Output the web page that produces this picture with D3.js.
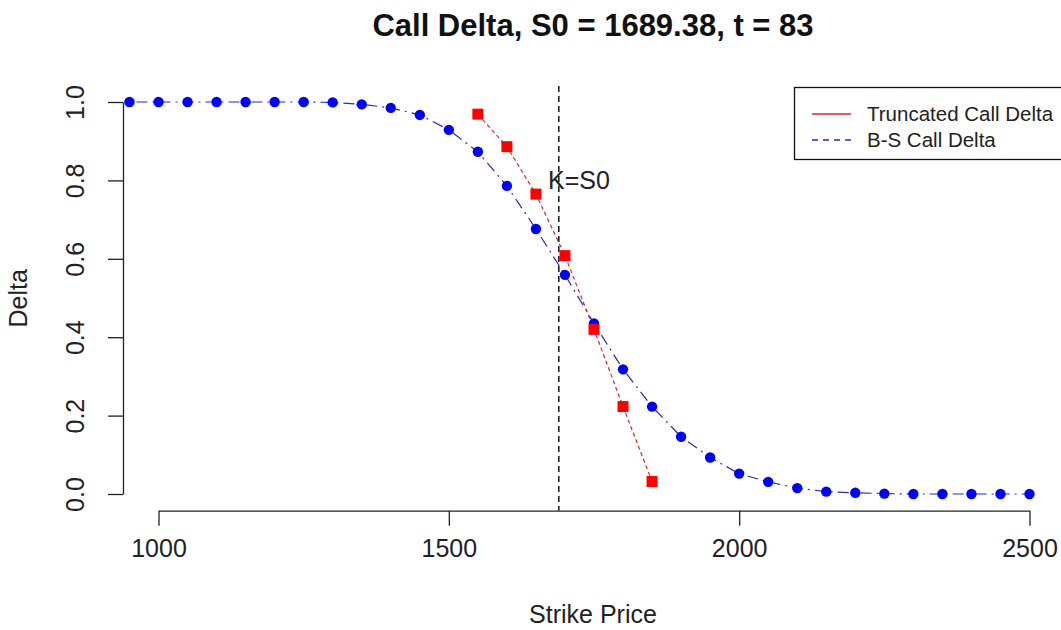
<!DOCTYPE html>
<html>
<head>
<meta charset="utf-8">
<script src="https://cdn.jsdelivr.net/npm/d3@7"></script>
<style>
  body { margin: 0; background: #fff; }
  svg { display: block; font-family: "Liberation Sans", Arial, sans-serif; }
</style>
</head>
<body>
<svg id="chart" width="1061" height="630"></svg>
<script>
// B-S call delta
const bsStrikes = [950, 1000, 1050, 1100, 1150, 1200, 1250, 1300, 1350, 1400,
  1450, 1500, 1550, 1600, 1650, 1700, 1750, 1800, 1850, 1900, 1950, 2000,
  2050, 2100, 2150, 2200, 2250, 2300, 2350, 2400, 2450, 2500];
const bsDelta = [1.0, 1.0, 1.0, 1.0, 1.0, 1.0, 1.0, 0.999, 0.994, 0.985,
  0.967, 0.929, 0.873, 0.786, 0.676, 0.559, 0.435, 0.318, 0.223, 0.146, 0.093, 0.052,
  0.031, 0.015, 0.006, 0.003, 0.001, 0.0, 0.0, 0.0, 0.0, 0.0];

// truncated call delta
const truncStrikes = [1550, 1600, 1650, 1700, 1750, 1800, 1850];
const truncDelta = [0.969, 0.886, 0.765, 0.608, 0.420, 0.223, 0.032];

const S0 = 1689.38;
const xTicks = [1000, 1500, 2000, 2500];
const yTicks = [0.0, 0.2, 0.4, 0.6, 0.8, 1.0];
const legendItems = [
  { label: "Truncated Call Delta", color: "#d42a2a", dash: null },
  { label: "B-S Call Delta", color: "#2a2ab8", dash: "6,5" },
];

const svg = d3.select("#chart");

const plot = { left: 123, right: 1063, top: 86, bottom: 510.7 };

const x = d3.scaleLinear().domain([1000, 2500]).range([158.5, 1029.5]);
const y = d3.scaleLinear().domain([0, 1]).range([494, 102]);

const bs = bsStrikes.map((k, i) => ({ k, d: bsDelta[i] }));
const tr = truncStrikes.map((k, i) => ({ k, d: truncDelta[i] }));

// title
svg.append("text")
  .attr("x", (plot.left + plot.right) / 2)
  .attr("y", 36)
  .attr("text-anchor", "middle")
  .attr("font-size", 31)
  .attr("font-weight", "bold")
  .attr("fill", "#111")
  .text(`Call Delta, S0 = ${S0}, t = 83`);

// axes
const xAxis = svg.append("g")
  .attr("transform", `translate(0,${plot.bottom})`)
  .call(d3.axisBottom(x).tickValues(xTicks).tickSize(15).tickSizeOuter(0).tickFormat(d3.format("d")));
xAxis.selectAll("text")
  .attr("y", 46)
  .attr("dy", null)
  .attr("font-size", 25)
  .attr("font-family", "Liberation Sans, Arial, sans-serif")
  .attr("fill", "#222");

const yAxis = svg.append("g")
  .attr("transform", `translate(${plot.left},0)`)
  .call(d3.axisLeft(y).tickValues(yTicks).tickSize(15).tickSizeOuter(0).tickFormat(d3.format(".1f")));
yAxis.selectAll("text")
  .attr("x", null)
  .attr("dy", "0.35em")
  .attr("text-anchor", "middle")
  .attr("transform", "translate(-48,0) rotate(-90)")
  .attr("font-size", 25)
  .attr("font-family", "Liberation Sans, Arial, sans-serif")
  .attr("fill", "#222");

svg.selectAll(".domain, .tick line").attr("stroke", "#222").attr("stroke-width", 1.3);

// axis titles
svg.append("text")
  .attr("x", (plot.left + plot.right) / 2)
  .attr("y", 623)
  .attr("text-anchor", "middle")
  .attr("font-size", 25)
  .attr("fill", "#222")
  .text("Strike Price");

svg.append("text")
  .attr("transform", `translate(27,${(plot.top + plot.bottom) / 2}) rotate(-90)`)
  .attr("text-anchor", "middle")
  .attr("font-size", 25)
  .attr("fill", "#222")
  .text("Delta");

// K = S0 line
svg.append("line")
  .attr("x1", x(S0)).attr("x2", x(S0))
  .attr("y1", plot.top).attr("y2", plot.bottom)
  .attr("stroke", "#222")
  .attr("stroke-width", 1.6)
  .attr("stroke-dasharray", "6,4");

svg.append("text")
  .attr("x", x(1724))
  .attr("y", y(0.8))
  .attr("dy", "0.35em")
  .attr("text-anchor", "middle")
  .attr("font-size", 25)
  .attr("fill", "#222")
  .text("K=S0");

// lines
const line = d3.line().x((d) => x(d.k)).y((d) => y(d.d));

svg.append("path")
  .datum(bs)
  .attr("fill", "none")
  .attr("stroke", legendItems[1].color)
  .attr("stroke-width", 1.2)
  .attr("stroke-dasharray", "2,5,11,5")
  .attr("d", line);

svg.append("path")
  .datum(tr)
  .attr("fill", "none")
  .attr("stroke", legendItems[0].color)
  .attr("stroke-width", 1.2)
  .attr("stroke-dasharray", "4,3")
  .attr("d", line);

// points
svg.selectAll("circle.bs")
  .data(bs)
  .join("circle")
  .attr("class", "bs")
  .attr("cx", (d) => x(d.k))
  .attr("cy", (d) => y(d.d))
  .attr("r", 5.2)
  .attr("fill", "#0000ff");

const sq = 11;
svg.selectAll("rect.tr")
  .data(tr)
  .join("rect")
  .attr("class", "tr")
  .attr("x", (d) => x(d.k) - sq / 2)
  .attr("y", (d) => y(d.d) - sq / 2)
  .attr("width", sq)
  .attr("height", sq)
  .attr("fill", "#ff0000");

// legend
const legend = svg.append("g");
legend.append("rect")
  .attr("x", 794.5)
  .attr("y", 87.5)
  .attr("width", 268)
  .attr("height", 72)
  .attr("fill", "#fff")
  .attr("stroke", "#111")
  .attr("stroke-width", 1.3);

legendItems.forEach((item, i) => {
  const ly = 114 + i * 26;
  legend.append("line")
    .attr("x1", 812).attr("x2", 851)
    .attr("y1", ly).attr("y2", ly)
    .attr("stroke", item.color)
    .attr("stroke-width", 1.3)
    .attr("stroke-dasharray", item.dash);
  legend.append("text")
    .attr("x", 867)
    .attr("y", ly)
    .attr("dy", "0.35em")
    .attr("font-size", 20.5)
    .attr("fill", "#222")
    .text(item.label);
});
</script>
</body>
</html>
